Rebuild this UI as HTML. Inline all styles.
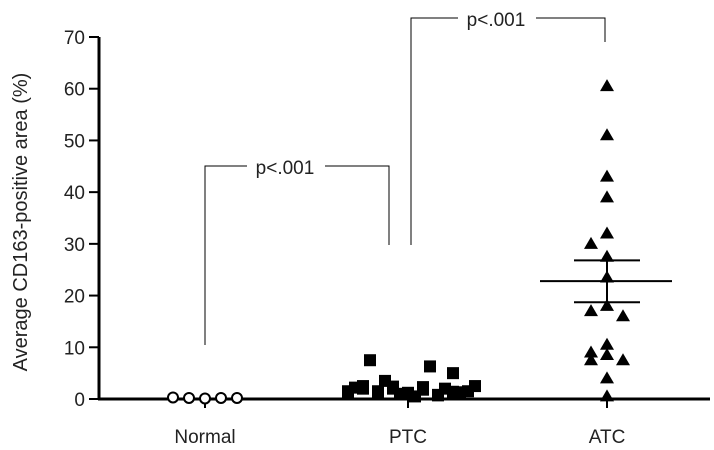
<!DOCTYPE html>
<html><head><meta charset="utf-8"><style>
body{margin:0;background:#fff}
svg{display:block;font-family:"Liberation Sans",Arial,sans-serif}
</style></head><body>
<svg id="c" width="714" height="450" viewBox="0 0 714 450"></svg>
<script>
const categories=["Normal","PTC","ATC"];
const yTicks=[0,10,20,30,40,50,60,70];
const normalVals=[0.3,0.2,0.1,0.2,0.2];
const ptcVals=[1.5,2.5,1.0,2.0,1.2,2.3,0.8,5.0,1.5,2.2,7.5,3.5,1.0,0.5,6.3,2.0,1.3,2.5,1.0,2.0,1.5,2.4,1.0,1.8,0.7,1.4];
const atcVals=[60.5,51,43,39,32,30,27.5,23.5,18,17,16,10.5,8.5,7.5,7.5,9,4,0.5];
const atcMean=22.8, atcSemHi=26.8, atcSemLo=18.7;
const NS="http://www.w3.org/2000/svg";
const svg=document.getElementById('c');
const X0=99,Y0=399,Y70=37,XEND=710;
const centers=[205,408,607];
function y(v){return Y0-(v/70)*(Y0-Y70);}
function xc(i){return centers[i];}
function mk(t,a,p){const e=document.createElementNS(NS,t);for(const k in a)e.setAttribute(k,a[k]);(p||svg).appendChild(e);return e;}
// axes
let e=mk('line',{x1:X0,y1:Y70,x2:X0,y2:Y0+1,stroke:'#000','stroke-width':3});


e=mk('line',{x1:X0-1,y1:Y0,x2:XEND,y2:Y0,stroke:'#000','stroke-width':3});


yTicks.forEach(v=>{
 let t=mk('line',{x1:X0-10,y1:y(v),x2:X0,y2:y(v),stroke:'#000','stroke-width':2});
 
 
 let l=mk('text',{x:X0-14,y:y(v)+7,'text-anchor':'end','font-size':19,fill:'#222','transform':''});
 l.textContent=v;
 
 
});
categories.forEach((c,i)=>{
 let l=mk('text',{x:xc(i),y:443,'text-anchor':'middle','font-size':19,fill:'#222'});
 l.textContent=c;
 
 
 let t=mk('line',{x1:xc(i),y1:Y0,x2:xc(i),y2:Y0+9,stroke:'#000','stroke-width':2});
 
 
});
let yt=mk('text',{x:0,y:0,'text-anchor':'middle','font-size':20,fill:'#222',transform:'translate(27,222) rotate(-90)'});
yt.textContent='Average CD163-positive area (%)';


// normal circles
normalVals.forEach((v,i)=>{
 let c=mk('circle',{cx:xc(0)-32+i*16,cy:y(v),r:5,fill:'#fff',stroke:'#000','stroke-width':2});
 
 
});
// ptc squares
const n=ptcVals.length;
ptcVals.forEach((v,i)=>{
 const off=((i%9)-4)*15+(Math.floor(i/9)%2)*7;
 let r=mk('rect',{x:xc(1)+off-6,y:y(v)-6,width:12,height:12,fill:'#000'});
 
 
});
// atc triangles
const sorted=atcVals.slice();
let counts={};
atcVals.forEach((v,i)=>{
 const b=Math.round(v/3.5);counts[b]=(counts[b]||0)+1;
 const k=counts[b]-1;
 const off=k===0?0:(k%2?-1:1)*Math.ceil(k/2)*16;
 const cx=xc(2)+off, cy=y(v);
 let p=mk('polygon',{points:`${cx},${cy-7} ${cx-7},${cy+5} ${cx+7},${cy+5}`,fill:'#000'});
 
 
});
// mean and sem
e=mk('line',{x1:xc(2)-67,y1:y(atcMean),x2:xc(2)+65,y2:y(atcMean),stroke:'#000','stroke-width':2});


[atcSemHi,atcSemLo].forEach(v=>{
 let s=mk('line',{x1:xc(2)-33,y1:y(v),x2:xc(2)+33,y2:y(v),stroke:'#000','stroke-width':2});
 
 
});
e=mk('line',{x1:xc(2),y1:y(atcSemHi),x2:xc(2),y2:y(atcSemLo),stroke:'#000','stroke-width':2});


// brackets
function bracket(x1,x2,ty,y1,y2,name){
 let g=mk('g',{});
 
 
 const mid=(x1+x2)/2;
 mk('polyline',{points:`${x1},${y1} ${x1},${ty} ${mid-50},${ty}`,fill:'none',stroke:'#000','stroke-width':1},g);
 mk('polyline',{points:`${mid+28},${ty} ${x2},${ty} ${x2},${y2}`,fill:'none',stroke:'#000','stroke-width':1},g);
 let t=mk('text',{x:mid-12,y:ty+8,'text-anchor':'middle','font-size':19,fill:'#222'},g);
 t.textContent='p<.001';
}
bracket(205,389,166,345,245,'bracket-normal-ptc');
bracket(411,605,18,245,42,'bracket-ptc-atc');
</script>
</body></html>
